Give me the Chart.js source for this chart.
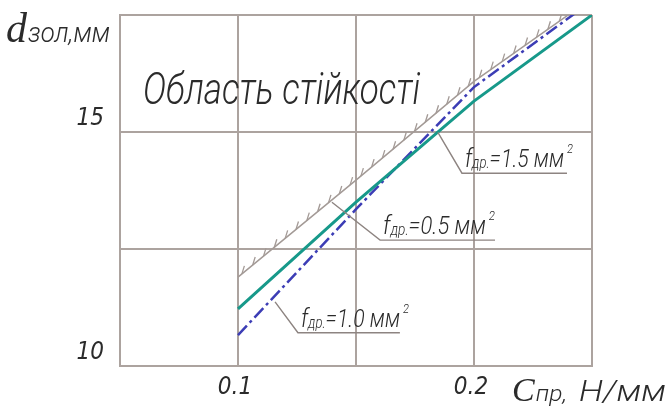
<!DOCTYPE html>
<html>
<head>
<meta charset="utf-8">
<script src="https://cdn.jsdelivr.net/npm/chart.js@4"></script>
<style>
html, body { margin: 0; padding: 0; background: #fff; }
</style>
</head>
<body>
<canvas id="myChart" width="668" height="408"></canvas>
<script>
// C_пр, Н/мм
const xValues = [0.1, 0.15, 0.2, 0.25];
// boundary of the stability region (hatched)
const boundaryValues = [11.9, 13.97, 16.08, 17.86];
// f_др = 1.5 мм²
const f15Values = [11.22, 13.5, 15.66, 17.5];
// f_др = 1.0 мм²
const f10Values = [10.66, 13.35, 15.96, 17.8];

const xGrid = [0.05, 0.1, 0.15, 0.2, 0.25];
const yGrid = [10, 12.5, 15, 17.5];
const xTickLabels = ['0.1', '0.2'];
const yTickLabels = ['10', '15'];

const gridColor = '#aca39f';
const textColor = '#2b2b2b';
const narrowFont = "'DejaVu Sans Condensed', 'Liberation Sans Narrow', 'DejaVu Sans', sans-serif";
const plainFont = "Roboto, 'DejaVu Sans', sans-serif";
const serifFont = "'Liberation Serif', 'DejaVu Serif', serif";

// leader labels: anchor on the line, elbow (start of underline), end of underline
const notes = [
    { value: '1.5', anchor: [0.1847, 14.99], elbow: [0.1949, 14.12], end: 0.2394, width: 108 },
    { value: '0.5', anchor: [0.1398, 13.5], elbow: [0.1602, 12.69], end: 0.2089, width: 112 },
    { value: '1.0', anchor: [0.1157, 11.37], elbow: [0.1254, 10.71], end: 0.1686, width: 108 }
];

function points(ys)
{
    return xValues.map((x, i) => ({ x: x, y: ys[i] }));
}

function pickLabel(value, at, labels)
{
    const i = at.findIndex(v => Math.abs(v - value) < 1e-6);
    return i >= 0 ? labels[i] : '';
}

function runFont(r)
{
    return r.serif
        ? 'italic ' + r.size + 'px ' + serifFont
        : 'italic 300 ' + r.size + 'px ' + plainFont;
}

// draws a row of text runs; sans runs are squeezed so the row fits the width
function drawRuns(ctx, runs, x, y, width, sy)
{
    ctx.save();
    let fixed = 0, squeezable = 0;
    runs.forEach(r =>
    {
        ctx.font = runFont(r);
        r.w = ctx.measureText(r.t).width;
        if (r.serif) fixed += r.w; else squeezable += r.w;
        fixed += r.gap || 0;
    });
    const sx = (width - fixed) / squeezable;
    ctx.fillStyle = textColor;
    ctx.textBaseline = 'alphabetic';
    ctx.textAlign = 'left';
    let cx = x;
    runs.forEach(r =>
    {
        ctx.save();
        ctx.translate(cx, y + (r.dy || 0));
        if (!r.serif) ctx.scale(sx, sy);
        ctx.font = runFont(r);
        ctx.fillText(r.t, 0, 0);
        ctx.restore();
        cx += (r.serif ? r.w : r.w * sx) + (r.gap || 0);
    });
    ctx.restore();
}

const hatchPlugin = {
    id: 'hatch',
    afterDatasetsDraw(chart)
    {
        const meta = chart.getDatasetMeta(0);
        const pts = meta.data.map(p => ({ x: p.x, y: p.y }));
        const ctx = chart.ctx;
        const a = chart.chartArea;
        ctx.save();
        ctx.beginPath();
        ctx.rect(a.left, a.top, a.right - a.left, a.bottom - a.top);
        ctx.clip();
        ctx.strokeStyle = '#a39a96';
        ctx.lineWidth = 1.3;
        let carry = 5;
        for (let i = 0; i < pts.length - 1; i++)
        {
            const p = pts[i], q = pts[i + 1];
            const len = Math.hypot(q.x - p.x, q.y - p.y);
            let d = carry;
            while (d < len)
            {
                const t = d / len;
                const x = p.x + (q.x - p.x) * t;
                const y = p.y + (q.y - p.y) * t;
                ctx.beginPath();
                ctx.moveTo(x, y);
                ctx.lineTo(x + 2.5, y - 8);
                ctx.stroke();
                d += 14;
            }
            carry = d - len;
        }
        ctx.restore();
    }
};

const textPlugin = {
    id: 'texts',
    afterDraw(chart)
    {
        const ctx = chart.ctx;
        const xs = chart.scales.x, ys = chart.scales.y;

        // leaders and labels
        notes.forEach(n =>
        {
            const ax = xs.getPixelForValue(n.anchor[0]), ay = ys.getPixelForValue(n.anchor[1]);
            const ex = xs.getPixelForValue(n.elbow[0]), ey = ys.getPixelForValue(n.elbow[1]);
            const endx = xs.getPixelForValue(n.end);
            ctx.save();
            ctx.strokeStyle = '#8d8481';
            ctx.lineWidth = 1.4;
            ctx.beginPath();
            ctx.moveTo(ax, ay);
            ctx.lineTo(ex, ey);
            ctx.lineTo(endx, ey);
            ctx.stroke();
            ctx.restore();
            drawRuns(ctx, [
                { t: 'f', size: 22 },
                { t: 'др.', size: 13, dy: 1 },
                { t: '=' + n.value + ' мм', size: 21, gap: 3 },
                { t: '2', size: 11, dy: -14 }
            ], ex + 3, ey - 6, n.width, 1.2);
        });

        // region caption
        drawRuns(ctx, [{ t: 'Область стійкості', size: 30 }], 143, 104, 277, 1.45);

        // axis titles
        drawRuns(ctx, [
            { t: 'd', size: 42, serif: true, gap: 1 },
            { t: 'зол,мм', size: 20 }
        ], 6, 42, 104, 1.35);
        drawRuns(ctx, [
            { t: 'C', size: 34, serif: true, gap: 1 },
            { t: 'пр,', size: 17, gap: 12 },
            { t: 'Н/мм', size: 24 }
        ], 512, 401, 154, 1.25);
    }
};

window.addEventListener('load', () =>
{
    const ctx = document.getElementById('myChart').getContext('2d');
    new Chart(ctx, {
        type: 'line',
        data: {
            datasets: [
                {
                    label: 'межа',
                    data: points(boundaryValues),
                    borderColor: '#a39a96',
                    borderWidth: 1.5,
                    pointRadius: 0
                },
                {
                    label: 'fдр=1.5 мм²',
                    data: points(f15Values),
                    borderColor: '#17998a',
                    borderWidth: 3,
                    pointRadius: 0
                },
                {
                    label: 'fдр=1.0 мм²',
                    data: points(f10Values),
                    borderColor: '#3c3db5',
                    borderWidth: 2.5,
                    borderDash: [13, 4, 3, 4],
                    pointRadius: 0
                }
            ]
        },
        options: {
            responsive: false,
            animation: false,
            devicePixelRatio: 1,
            layout: { padding: { top: 15, right: 76, left: 0, bottom: 0 } },
            plugins: { legend: { display: false }, tooltip: { enabled: false } },
            scales: {
                x: {
                    type: 'linear',
                    min: 0.05,
                    max: 0.25,
                    afterBuildTicks: s => { s.ticks = xGrid.map(v => ({ value: v })); },
                    afterFit: s => { s.height = 42; s.paddingLeft = 0; s.paddingRight = 0; },
                    grid: { color: gridColor, lineWidth: 2, drawTicks: false },
                    border: { color: gridColor, width: 2 },
                    ticks: {
                        padding: 7,
                        labelOffset: -3,
                        maxRotation: 0,
                        autoSkip: false,
                        color: textColor,
                        font: { family: narrowFont, size: 24, style: 'italic' },
                        callback: v => pickLabel(v, [0.1, 0.2], xTickLabels)
                    }
                },
                y: {
                    type: 'linear',
                    min: 10,
                    max: 17.5,
                    afterBuildTicks: s => { s.ticks = yGrid.map(v => ({ value: v })); },
                    afterFit: s => { s.width = 120; s.paddingTop = 0; s.paddingBottom = 0; },
                    grid: { color: gridColor, lineWidth: 2, drawTicks: false },
                    border: { color: gridColor, width: 2 },
                    ticks: {
                        padding: 16,
                        labelOffset: -13,
                        autoSkip: false,
                        color: textColor,
                        font: { family: narrowFont, size: 24, style: 'italic' },
                        callback: v => pickLabel(v, [10, 15], yTickLabels)
                    }
                }
            }
        },
        plugins: [hatchPlugin, textPlugin]
    });
});
</script>
</body>
</html>
